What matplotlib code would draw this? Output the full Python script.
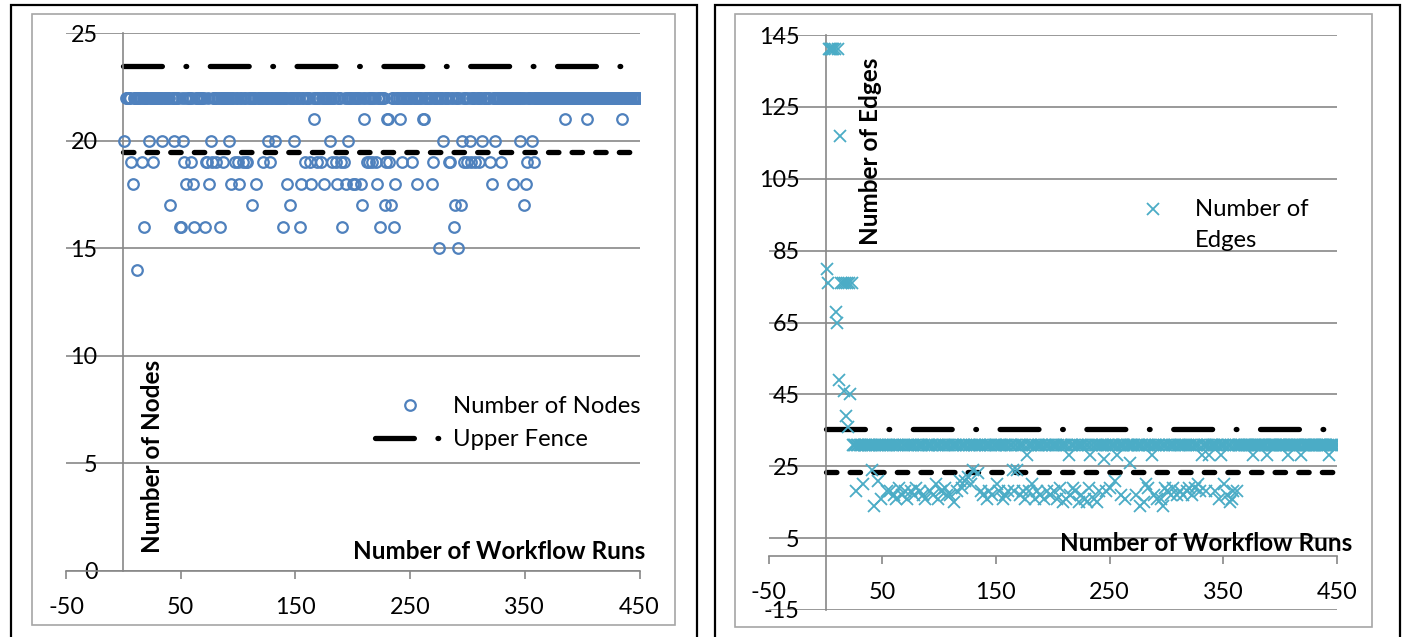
import matplotlib.pyplot as plt
from matplotlib.lines import Line2D
from matplotlib.patches import Rectangle
import numpy as np

plt.rcParams['font.family'] = ['Lato', 'DejaVu Sans']
plt.rcParams['lines.scale_dashes'] = False
plt.rcParams['axes.unicode_minus'] = False

W, H = 1406, 637
BLUE = '#4F81BD'
AQUA = '#4BACC6'
GRID = '#878787'

# ---- data: number of nodes per workflow run ----
runs = np.arange(1, 451)
node_base = 22
node_out = {
    21: [166, 210, 230, 231, 241, 261, 262, 385, 404, 435],
    20: [1, 22, 34, 44, 52, 76, 92, 126, 132, 149, 180, 196, 279, 295, 302,
         313, 324, 346, 356],
    19: [7, 16, 26, 53, 59, 72, 73, 77, 81, 87, 97, 100, 104, 107, 108, 122,
         128, 158, 163, 169, 172, 182, 185, 190, 192, 212, 214, 217, 220, 229,
         232, 243, 252, 270, 284, 285, 297, 300, 303, 307, 310, 320, 329, 352, 358],
    18: [8, 55, 61, 75, 94, 101, 116, 143, 155, 164, 175, 186, 194, 200, 202,
         207, 221, 237, 256, 269, 321, 340, 351],
    17: [41, 112, 145, 208, 228, 233, 289, 294, 349],
    16: [18, 49, 50, 62, 71, 84, 139, 154, 191, 224, 236, 288],
    15: [275, 292],
    14: [12],
}
node_upper_fence = 23.5
node_lower_line = 19.5

# ---- data: number of edges per workflow run ----
edge_base = 31
edge_early = [80, 76, 141, 141, 141, 141, 141, 141, 68, 65, 141, 49, 117,
              76, 76, 46, 76, 39, 76, 36, 76, 45, 76]   # runs 1..23
edge_out_runs = [27, 33, 41, 43, 46, 49, 54, 57, 62, 70, 75, 80, 86, 92, 97,
                 102, 107, 113, 120, 123, 128, 130, 134, 142, 147, 151, 156,
                 161, 165, 166, 169, 174, 182, 186, 195, 201, 209, 215, 220,
                 225, 230, 236, 241, 247, 255, 260, 273, 277, 284, 289, 295,
                 297, 301, 306, 312, 320, 325, 330, 335, 346, 351, 356, 359,
                 362, 60, 65, 67, 72, 78, 83, 88, 95, 99, 105, 110, 116, 118,
                 125, 137, 139, 144, 153, 158, 171, 176, 179, 184, 189, 192,
                 198, 204, 206, 212, 218, 223, 228, 232, 239, 250, 264, 280,
                 282, 292, 299, 304, 309, 315, 318, 323, 328, 343, 353, 358,
                 177, 214, 233, 245, 257, 268, 287, 331, 338, 348, 376, 389,
                 407, 419, 443]
edge_out_vals = [18, 20, 24, 14, 21, 16, 18, 18, 16, 18, 18, 19, 17, 18, 20,
                 18, 17, 15, 19, 21, 20, 24, 23, 16, 17, 20, 16,
                 18, 24, 18, 24, 18, 20, 18, 18, 18, 15, 17, 18,
                 17, 15, 16, 18, 18, 21, 17, 17, 14, 19, 17, 16,
                 14, 18, 19, 18, 19, 19, 18, 18, 16, 20, 15, 18,
                 18, 17, 19, 17, 16, 17, 18, 16, 17, 16, 19, 17, 18, 21,
                 22, 18, 17, 18, 18, 17, 17, 16, 18, 16, 17, 16,
                 17, 16, 19, 16, 19, 15, 16, 19, 15, 19, 16, 15,
                 20, 16, 19, 17, 17, 17, 18, 17, 20, 18, 17, 16,
                 28, 28, 28, 27, 28, 26, 28, 28, 28, 28, 28, 28,
                 28, 28, 28]
edge_upper_fence = 35.5
edge_lower_line = 23.5
fence_x = [0, 450]

nodes = np.full(len(runs), node_base, dtype=float)
for val, lst in node_out.items():
    for r in lst:
        nodes[r - 1] = val

edges = np.full(len(runs), edge_base, dtype=float)
edges[:len(edge_early)] = edge_early
for r, v in zip(edge_out_runs, edge_out_vals):
    edges[r - 1] = v


def px_box(x0, y0, x1, y1):
    # pixel box (top-left origin) -> figure fraction rect
    return [x0 / W, 1 - y1 / H, (x1 - x0) / W, (y1 - y0) / H]


fig = plt.figure(figsize=(W / 100, H / 100), dpi=100)

# panel frames
for bx in [(11, 5, 697, 645), (715, 5, 1400, 645)]:
    r = px_box(*bx)
    fig.add_artist(Rectangle((r[0], r[1]), r[2], r[3], transform=fig.transFigure,
                             fill=False, ec='black', lw=1.6))
for bx in [(32, 14, 675, 625), (735, 14, 1372, 627)]:
    r = px_box(*bx)
    fig.add_artist(Rectangle((r[0], r[1]), r[2], r[3], transform=fig.transFigure,
                             fill=False, ec='#a6a6a6', lw=1.2))

ax1 = fig.add_axes(px_box(66, 33.3, 639.5, 570.7))
ax2 = fig.add_axes(px_box(768.7, 35, 1336.7, 610))


def style_axis(ax, ylim, yticks):
    ax.set_xlim(-50, 450)
    ax.set_ylim(*ylim)
    ax.set_xticks(np.arange(-50, 451, 100))
    ax.set_yticks(yticks)
    for s in ['top', 'right']:
        ax.spines[s].set_visible(False)
    ax.spines['left'].set_position(('data', 0))
    ax.spines['bottom'].set_position(('data', 0))
    for s in ['left', 'bottom']:
        ax.spines[s].set_color(GRID)
        ax.spines[s].set_linewidth(1.2)
    ax.tick_params(axis='y', length=0, pad=18.5, labelsize=16.8)
    ax.tick_params(axis='x', direction='out', length=6, width=1.2, color=GRID,
                   pad=13, labelsize=16.8)
    ax.yaxis.grid(True, color=GRID, lw=1.2)
    ax.set_axisbelow(True)
    ax.patch.set_alpha(0)


style_axis(ax1, (0, 25), np.arange(0, 26, 5))
style_axis(ax2, (-15, 145), np.arange(-15, 146, 20))

# left: nodes
ax1.plot(runs, nodes, 'o', mfc='none', mec=BLUE, ms=7.6, mew=1.6,
         label='Number of Nodes', zorder=3)
dashdot = (28, 17, 0.5, 17)
ax1.plot(fence_x, [node_upper_fence] * 2, color='black', lw=3.8,
         dashes=dashdot, dash_capstyle='round', label='Upper Fence', zorder=2)
ax1.plot(fence_x, [node_lower_line] * 2, color='black', lw=3.8,
         dashes=(7.5, 9.5), dash_capstyle='round', zorder=2)
ax1.text(25, 5.3, 'Number of Nodes', rotation=90, ha='center', va='center',
         fontsize=17.5, fontweight='bold')
ax1.text(454.6, 0.9, 'Number of Workflow Runs', ha='right', va='center',
         fontsize=17.5, fontweight='bold')
ax1.legend(loc='center left', bbox_to_anchor=(375 / W, 1 - 423 / H),
           bbox_transform=fig.transFigure, frameon=False, fontsize=17.2,
           handlelength=2.9, handletextpad=0.35, borderpad=0, borderaxespad=0,
           labelspacing=0.5)

# right: edges
ax2.plot(runs, edges, 'x', color=AQUA, ms=8.5, mew=1.3,
         label='Number of Edges', zorder=3)
ax2.plot(fence_x, [edge_upper_fence] * 2, color='black', lw=3.8,
         dashes=dashdot, dash_capstyle='round', zorder=2)
ax2.plot(fence_x, [edge_lower_line] * 2, color='black', lw=3.8,
         dashes=(7.5, 9.5), dash_capstyle='round', zorder=2)
ax2.text(40, 112.6, 'Number of Edges', rotation=90, ha='center', va='center',
         fontsize=17.5, fontweight='bold')
ax2.text(463.5, 3.4, 'Number of Workflow Runs', ha='right', va='center',
         fontsize=17.5, fontweight='bold')

# right legend (wrapped label, marker beside first line)
fig.add_artist(Line2D([1153 / W], [1 - 209 / H], transform=fig.transFigure,
                      ls='none', marker='x', color=AQUA, ms=8.5, mew=1.3))
fig.text(1195 / W, 1 - 209 / H, 'Number of', ha='left', va='center',
         fontsize=17.2)
fig.text(1195 / W, 1 - 241 / H, 'Edges', ha='left', va='center', fontsize=17.2)

fig.savefig('out.png', dpi=100)
